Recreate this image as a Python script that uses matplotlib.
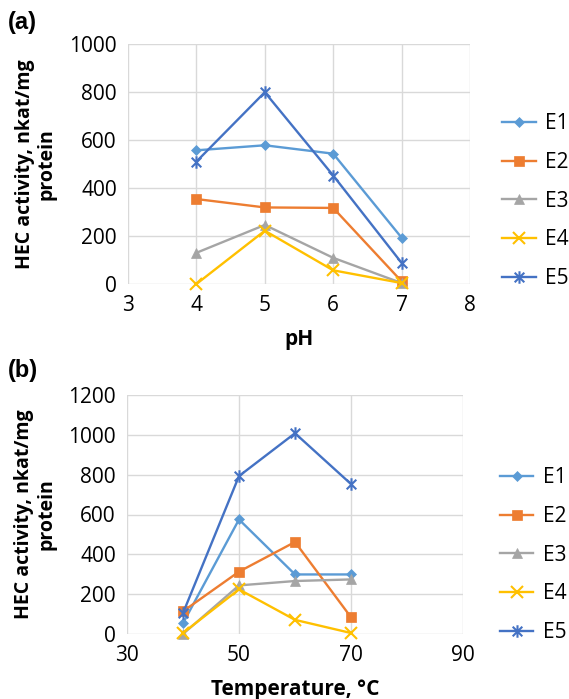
import numpy as np
import matplotlib.pyplot as plt
from matplotlib.path import Path

WIDTH, HEIGHT, DPI = 569, 699, 100

plt.rcParams['font.family'] = ['Open Sans', 'DejaVu Sans']

series = ["E1", "E2", "E3", "E4", "E5"]

# pH optimum
ph = [4, 5, 6, 7]
ph_act = {
    "E1": [557, 578, 543, 193],
    "E2": [354, 319, 317, 11],
    "E3": [130, 246, 109, 4],
    "E4": [0, 222, 57, 4],
    "E5": [510, 799, 452, 88],
}

# temperature optimum
temp = [40, 50, 60, 70]
temp_act = {
    "E1": [54, 575, 299, 299],
    "E2": [114, 313, 462, 84],
    "E3": [0, 244, 266, 274],
    "E4": [5, 224, 71, 5],
    "E5": [105, 793, 1008, 753],
}

colors = {"E1": "#5B9BD5", "E2": "#ED7D31", "E3": "#A5A5A5",
          "E4": "#FFC000", "E5": "#4472C4"}

# excel-style asterisk: an x with a vertical stroke through it
star = Path([(-1, -1), (1, 1), (-1, 1), (1, -1), (0, -1.3), (0, 1.3)],
            [Path.MOVETO, Path.LINETO, Path.MOVETO, Path.LINETO,
             Path.MOVETO, Path.LINETO])
markers = {"E1": ("D", 5.5), "E2": ("s", 6.5), "E3": ("^", 6.5),
           "E4": ("x", 8.5), "E5": (star, 9)}


def draw(ax, x, data, xlim, ylim, yticks, xlabel, xticks):
    for s in series:
        m, ms = markers[s]
        ax.plot(x, data[s], color=colors[s], lw=1.7, marker=m, ms=ms,
                mew=1.5 if m in ("x",) or m is star else 0.5,
                mfc=colors[s], mec=colors[s], label=s, clip_on=False)
    ax.set_xlim(*xlim)
    ax.set_ylim(*ylim)
    ax.set_xticks(xticks)
    ax.set_yticks(yticks)
    ax.grid(True, color="#D9D9D9", lw=1.0)
    ax.set_axisbelow(True)
    for sp in ax.spines.values():
        sp.set_visible(False)
    ax.tick_params(length=0, labelsize=15, pad=8)
    ax.set_xlabel(xlabel, fontsize=15, fontweight="bold", labelpad=9)
    ax.set_ylabel("HEC activity, nkat/mg\nprotein", fontsize=14,
                  fontweight="bold", va="center", linespacing=1.15)
    ax.legend(loc="center left", frameon=False, fontsize=15,
              handlelength=1.6, handletextpad=0.45, labelspacing=0.85,
              borderpad=0, borderaxespad=0)


fig = plt.figure(figsize=(WIDTH / DPI, HEIGHT / DPI), dpi=DPI)

ax1 = fig.add_axes([128 / WIDTH, 1 - 284 / HEIGHT, 342 / WIDTH, 240 / HEIGHT])
draw(ax1, ph, ph_act, (3, 8), (0, 1000), np.arange(0, 1001, 200), "pH",
     range(3, 9))
ax1.yaxis.set_label_coords(-0.27, 0.5)
ax1.get_legend().set_bbox_to_anchor((1.095, 0.345))

ax2 = fig.add_axes([127 / WIDTH, 1 - 634 / HEIGHT, 336 / WIDTH, 239 / HEIGHT])
draw(ax2, temp, temp_act, (30, 90), (0, 1200), np.arange(0, 1201, 200),
     "Temperature, °C", range(30, 91, 20))
ax2.yaxis.set_label_coords(-0.274, 0.5)
ax2.get_legend().set_bbox_to_anchor((1.11, 0.33))

fig.text(8 / WIDTH, 1 - 22 / HEIGHT, "(a)", fontsize=17, fontweight="bold",
         va="center", family="Liberation Sans")
fig.text(8 / WIDTH, 1 - 370 / HEIGHT, "(b)", fontsize=17, fontweight="bold",
         va="center", family="Liberation Sans")

fig.savefig("out.png", dpi=DPI)
